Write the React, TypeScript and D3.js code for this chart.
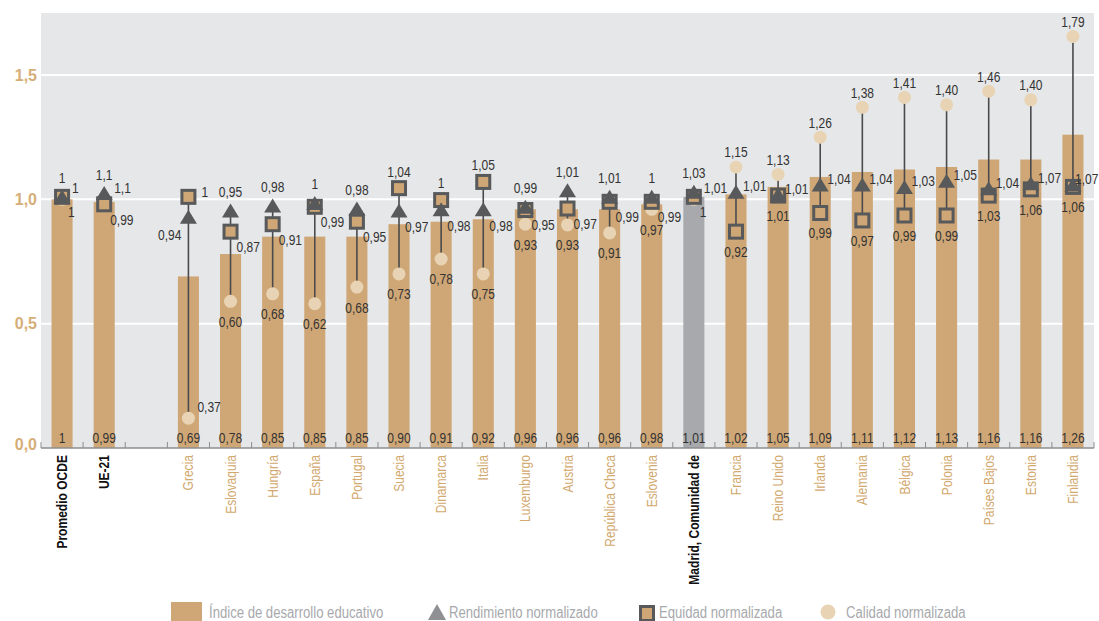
import React from 'react';
import * as d3 from 'd3';

const categories = [
  'Promedio OCDE', 'UE-21', 'Grecia', 'Eslovaquia', 'Hungría', 'España', 'Portugal', 'Suecia',
  'Dinamarca', 'Italia', 'Luxemburgo', 'Austria', 'República Checa', 'Eslovenia',
  'Madrid, Comunidad de', 'Francia', 'Reino Unido', 'Irlanda', 'Alemania', 'Bélgica',
  'Polonia', 'Países Bajos', 'Estonia', 'Finlandia',
];
const highlighted = ['Promedio OCDE', 'UE-21', 'Madrid, Comunidad de'];
const grayBar = 'Madrid, Comunidad de';

// Índice de desarrollo educativo (bars)
const desarrollo = [1.0, 0.99, 0.69, 0.78, 0.85, 0.85, 0.85, 0.9, 0.91, 0.92, 0.96, 0.96, 0.96, 0.98, 1.01, 1.02, 1.05, 1.09, 1.11, 1.12, 1.13, 1.16, 1.16, 1.26];
const desarrolloLabels = ['1', '0,99', '0,69', '0,78', '0,85', '0,85', '0,85', '0,90', '0,91', '0,92', '0,96', '0,96', '0,96', '0,98', '1,01', '1,02', '1,05', '1,09', '1,11', '1,12', '1,13', '1,16', '1,16', '1,26'];

// Rendimiento normalizado (triangles)
const rendimiento = [1.01, 1.025, 0.93, 0.955, 0.975, 0.985, 0.963, 0.955, 0.96, 0.96, 0.97, 1.037, 1.01, 1.01, 1.03, 1.03, 1.02, 1.06, 1.06, 1.05, 1.075, 1.045, 1.065, 1.06];
const rendimientoLabels = ['1', '1,1', '0,94', '0,95', '0,98', '1', '0,98', '0,97', '0,98', '0,98', '0,99', '1,01', '1,01', '1', '1,03', '1,01', '1,01', '1,04', '1,04', '1,03', '1,05', '1,04', '1,07', '1,07'];

// Equidad normalizada (squares)
const equidad = [1.01, 0.98, 1.01, 0.87, 0.9, 0.97, 0.91, 1.045, 0.997, 1.07, 0.957, 0.963, 0.99, 0.99, 1.01, 0.87, 1.015, 0.945, 0.915, 0.935, 0.935, 1.015, 1.04, 1.05];
const equidadLabels = ['1', '0,99', '1', '0,87', '0,91', '0,99', '0,95', '1,04', '1', '1,05', '0,95', '0,97', '0,99', '0,99', '1', '0,92', '1,01', '0,99', '0,97', '0,99', '0,99', '1,03', '1,06', '1,06'];

// Calidad normalizada (circles)
const calidad = [1.0, 1.0, 0.12, 0.59, 0.62, 0.58, 0.647, 0.7, 0.76, 0.7, 0.9, 0.897, 0.865, 0.96, 1.0, 1.13, 1.1, 1.25, 1.37, 1.41, 1.38, 1.435, 1.4, 1.655];
const calidadLabels = ['1', '1,1', '0,37', '0,60', '0,68', '0,62', '0,68', '0,73', '0,78', '0,75', '0,93', '0,93', '0,91', '0,97', '1,01', '1,15', '1,13', '1,26', '1,38', '1,41', '1,40', '1,46', '1,40', '1,79'];

const yTicks = [0, 0.5, 1.0, 1.5];
const yTickLabels = ['0,0', '0,5', '1,0', '1,5'];

const legendItems = [
  'Índice de desarrollo educativo',
  'Rendimiento normalizado',
  'Equidad normalizada',
  'Calidad normalizada',
];

const SANS = "'Liberation Sans', Arial, Helvetica, sans-serif";
const TAN = '#cfa776';
const TAN_TEXT = '#d2a96f';
const CIRCLE = '#e8d4b4';
const DARK = '#58595b';
const BG = '#e6e7e8';

const W = 1099;
const H = 621;
const left = 41;
const right = 1094;
const top = 13;
const bottom = 448;

type TProps = {
  x: number; y: number; anchor?: string; size?: number; sx?: number; rot?: number;
  fill?: string; weight?: string; children: React.ReactNode;
};
function NText({ x, y, anchor = 'start', size = 15, sx = 0.8, rot = 0, fill = '#333', weight = 'normal', children }: TProps) {
  return (
    <text transform={`translate(${x},${y})${rot ? ` rotate(${rot})` : ''} scale(${sx},1)`}
      textAnchor={anchor as any} fontSize={size} fontFamily={SANS} fontWeight={weight as any}
      fill={fill} dy="0.36em">
      {children}
    </text>
  );
}

export default function App() {
  const slots = [categories[0], categories[1], '__gap__', ...categories.slice(2)];
  const x = d3.scaleBand<string>().domain(slots).range([left, right]).padding(0);
  const bw = x.bandwidth();
  const y = d3.scaleLinear().domain([0, 1.5]).range([bottom, 75]);
  const cx = (c: string) => (x(c) as number) + bw / 2;
  const barW = bw * 0.5;

  const triPath = (px: number, py: number) =>
    `M${px},${py - 7}L${px + 8.5},${py + 7}L${px - 8.5},${py + 7}Z`;

  type Lbl = { x: number; y: number; anchor: string; t: string };
  const labels: Lbl[] = [];
  categories.forEach((c, i) => {
    const px = cx(c);
    const r = rendimiento[i], e = equidad[i], q = calidad[i];
    const yr = y(r), ye = y(e), yq = y(q);
    const circleTop = q > Math.max(r, e) + 0.02;
    const circleHidden = !circleTop && q >= Math.min(r, e) - 0.02;
    const circleLow = q < 0.25;
    if (circleTop) labels.push({ x: px, y: yq - 15, anchor: 'middle', t: calidadLabels[i] });
    else if (circleHidden) labels.push({ x: px + 10, y: yq - 12, anchor: 'start', t: calidadLabels[i] });
    else if (circleLow) labels.push({ x: px + 9, y: yq - 12, anchor: 'start', t: calidadLabels[i] });
    else labels.push({ x: px, y: yq + 20, anchor: 'middle', t: calidadLabels[i] });

    if (circleTop) {
      labels.push({ x: Math.min(px + 7, W - 24), y: yr - 6, anchor: 'start', t: rendimientoLabels[i] });
      labels.push({ x: px, y: ye + 20, anchor: 'middle', t: equidadLabels[i] });
    } else if (circleLow) {
      labels.push({ x: px + 13, y: ye - 5, anchor: 'start', t: equidadLabels[i] });
      labels.push({ x: px - 7, y: yr + 18, anchor: 'end', t: rendimientoLabels[i] });
    } else if (r >= e) {
      labels.push({ x: px, y: yr - 19, anchor: 'middle', t: rendimientoLabels[i] });
      labels.push({ x: px + 6, y: ye + 15, anchor: 'start', t: equidadLabels[i] });
    } else {
      labels.push({ x: px, y: ye - 17, anchor: 'middle', t: equidadLabels[i] });
      labels.push({ x: px + 6, y: yr + 16, anchor: 'start', t: rendimientoLabels[i] });
    }
  });

  const boundaries = d3.range(slots.length + 1).map((k) => left + k * bw);

  return (
    <svg width={W} height={H} style={{ position: 'absolute', left: 0, top: 0, background: '#fff' }}>
      <rect x={left} y={top} width={right - left} height={bottom - top} fill={BG} />
      {yTicks.filter((t) => t > 0).map((t) => (
        <line key={t} x1={left} x2={right} y1={y(t)} y2={y(t)} stroke="#fff" strokeWidth={2} />
      ))}
      {yTicks.map((t, k) => (
        <text key={t} x={37} y={t === 0 ? y(t) - 4 : y(t)} dy="0.36em" textAnchor="end"
          fontFamily={SANS} fontWeight="bold" fontSize={16} fill="#d6ae78">
          {yTickLabels[k]}
        </text>
      ))}

      {/* bars */}
      {categories.map((c, i) => (
        <rect key={c} x={cx(c) - barW / 2} y={y(desarrollo[i])} width={barW}
          height={bottom - y(desarrollo[i])} fill={c === grayBar ? '#a7a9ac' : TAN} />
      ))}

      {/* axis */}
      <line x1={left} x2={right} y1={bottom} y2={bottom} stroke="#8d8e90" strokeWidth={1.5} />
      {boundaries.map((b, k) => (
        <line key={k} x1={b} x2={b} y1={bottom - 6} y2={bottom} stroke="#8d8e90" strokeWidth={1} />
      ))}

      {/* bar labels */}
      {categories.map((c, i) => (
        <NText key={c} x={cx(c)} y={438} anchor="middle">{desarrolloLabels[i]}</NText>
      ))}

      {/* connecting lines */}
      {categories.map((c, i) => {
        const vals = [rendimiento[i], equidad[i], calidad[i]];
        return (
          <line key={c} x1={cx(c)} x2={cx(c)} y1={y(d3.max(vals) as number)} y2={y(d3.min(vals) as number)}
            stroke="#4a4a4c" strokeWidth={1.6} />
        );
      })}

      {/* circles */}
      {categories.map((c, i) => (
        <circle key={c} cx={cx(c)} cy={y(calidad[i])} r={6.5} fill={CIRCLE} />
      ))}
      {/* squares */}
      {categories.map((c, i) => (
        <rect key={c} x={cx(c) - 6.5} y={y(equidad[i]) - 6.5} width={13} height={13}
          fill={TAN} stroke={DARK} strokeWidth={3} />
      ))}
      {/* triangles */}
      {categories.map((c, i) => (
        <path key={c} d={triPath(cx(c), y(rendimiento[i]))} fill={DARK} />
      ))}

      {/* data labels */}
      {labels.map((l, k) => (
        <NText key={k} x={l.x} y={l.y} anchor={l.anchor}>{l.t}</NText>
      ))}

      {/* x labels */}
      {categories.map((c) => {
        const bold = highlighted.includes(c);
        return (
          <NText key={c} x={cx(c)} y={455} rot={-90} anchor="end" size={14} sx={0.86}
            weight={bold ? 'bold' : 'normal'} fill={bold ? '#111' : TAN_TEXT}>
            {c}
          </NText>
        );
      })}

      {/* legend */}
      <rect x={171} y={602} width={31} height={20} fill={TAN} />
      <NText x={209} y={612} size={16} sx={0.82} fill="#a7a9ac">{legendItems[0]}</NText>
      <path d={`M437,604L446,620L428,620Z`} fill="#8f9093" />
      <NText x={449} y={612} size={16} sx={0.82} fill="#a7a9ac">{legendItems[1]}</NText>
      <rect x={640.5} y={606.5} width={13} height={14} fill={TAN} stroke={DARK} strokeWidth={3} />
      <NText x={659} y={612} size={16} sx={0.82} fill="#a7a9ac">{legendItems[2]}</NText>
      <circle cx={828} cy={612} r={7.5} fill={CIRCLE} />
      <NText x={846} y={612} size={16} sx={0.82} fill="#a7a9ac">{legendItems[3]}</NText>
    </svg>
  );
}
